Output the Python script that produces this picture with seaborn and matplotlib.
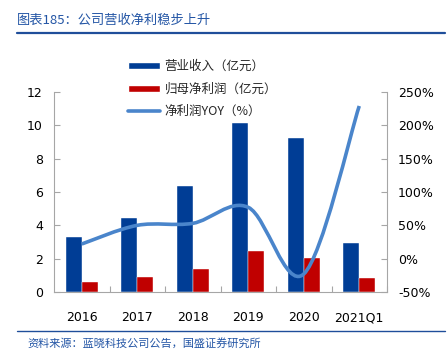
import numpy as np
import pandas as pd
import matplotlib
matplotlib.use("Agg")
import matplotlib.pyplot as plt
import seaborn as sns
from matplotlib.path import Path
from matplotlib.patches import PathPatch, Patch
from matplotlib.lines import Line2D

# data
years = ["2016", "2017", "2018", "2019", "2020", "2021Q1"]
revenue = [3.32, 4.44, 6.34, 10.15, 9.26, 2.92]      # 营业收入（亿元）
net_profit = [0.58, 0.92, 1.38, 2.48, 2.02, 0.84]    # 归母净利润（亿元）
profit_yoy = [22, 50, 53, 77, -23, 229]               # 净利润YOY（%）

blue = "#003D95"
red = "#C00000"
light_blue = "#4A85CB"
text_blue = "#2355A5"

sns.set_theme(style="white")
plt.rcParams["font.family"] = ["Noto Sans CJK SC", "DejaVu Sans"]

df = pd.DataFrame({"year": years * 2,
                   "value": revenue + net_profit,
                   "kind": ["营业收入（亿元）"] * len(years) + ["归母净利润（亿元）"] * len(years)})

fig = plt.figure(figsize=(4.47, 3.54), dpi=100)
ax = fig.add_axes([54 / 447, 1 - 292 / 354, 333 / 447, 200 / 354])

sns.barplot(data=df, x="year", y="value", hue="kind", palette=[blue, red],
            width=0.58, gap=0, saturation=1, ax=ax, legend=False,
            edgecolor="white", linewidth=0.3)
ax.set_ylim(0, 12)
ax.set_yticks(range(0, 13, 2))
ax.set_xlim(-0.5, len(years) - 0.5)
ax.set_xlabel("")
ax.set_ylabel("")

ax2 = ax.twinx()
ax2.set_ylim(-50, 250)
ax2.set_yticks(range(-50, 251, 50))
ax2.set_yticklabels([f"{v}%" for v in range(-50, 251, 50)])

# smooth line (Catmull-Rom -> cubic bezier, like Excel's smoothed line)
xs = np.arange(len(years), dtype=float)
ys = np.array(profit_yoy, dtype=float)
pts = np.column_stack([xs, ys])
ext = np.vstack([pts[0], pts, pts[-1]])
verts = [tuple(pts[0])]
codes = [Path.MOVETO]
for i in range(len(pts) - 1):
    p0, p1, p2, p3 = ext[i], ext[i + 1], ext[i + 2], ext[i + 3]
    c1 = p1 + (p2 - p0) / 6
    c2 = p2 - (p3 - p1) / 6
    verts += [tuple(c1), tuple(c2), tuple(p2)]
    codes += [Path.CURVE4] * 3
ax2.add_patch(PathPatch(Path(verts, codes), facecolor="none", edgecolor=light_blue,
                        linewidth=2.6, capstyle="butt"))

for a in (ax, ax2):
    for s in a.spines.values():
        s.set_color("#A6A6A6")
        s.set_linewidth(0.8)
    a.spines["top"].set_visible(False)
ax.spines["right"].set_visible(False)
ax2.spines["left"].set_visible(False)
ax2.spines["bottom"].set_visible(False)

ax.tick_params(axis="y", direction="in", length=4, color="#A6A6A6", width=0.8,
               labelsize=9, labelcolor="black", pad=8, left=True)
ax2.tick_params(axis="y", direction="in", length=4, color="#A6A6A6", width=0.8,
                labelsize=9, labelcolor="black", pad=8, right=True)
ax.tick_params(axis="x", labelsize=9, labelcolor="black", bottom=False, pad=8)
ax.set_xticks(np.arange(len(years)) + 0.5, minor=True)
ax.tick_params(axis="x", which="minor", direction="in", length=4, color="#A6A6A6",
               width=0.8, bottom=True)
for lab in ax.get_yticklabels() + ax2.get_yticklabels() + ax.get_xticklabels():
    lab.set_family("DejaVu Sans")

handles = [Patch(facecolor=blue, label="营业收入（亿元）"),
           Patch(facecolor=red, label="归母净利润（亿元）"),
           Line2D([], [], color=light_blue, linewidth=2.6, label="净利润YOY（%）")]
fig.legend(handles=handles, loc="upper left", bbox_to_anchor=(117 / 447, 1 - 49 / 354),
           frameon=False, fontsize=9, handlelength=2.5, handleheight=0.5,
           labelspacing=0.75, handletextpad=0.4)

# title and footer
fig.text(17 / 447, 1 - 20 / 354, "图表185：公司营收净利稳步上升", color=text_blue,
         fontsize=9.5, va="center", ha="left", style="italic")
fig.add_artist(Line2D([17 / 447, 445 / 447], [1 - 33 / 354] * 2, color="#1F4E9A",
                      linewidth=1.6, transform=fig.transFigure))
fig.add_artist(Line2D([17 / 447, 445 / 447], [1 - 331 / 354] * 2, color="#1F4E9A",
                      linewidth=1.0, transform=fig.transFigure))
fig.text(27 / 447, 1 - 343 / 354, "资料来源：蓝晓科技公司公告，国盛证券研究所",
         color=text_blue, fontsize=8, va="center", ha="left", style="italic")

fig.savefig("out.png", dpi=100)
